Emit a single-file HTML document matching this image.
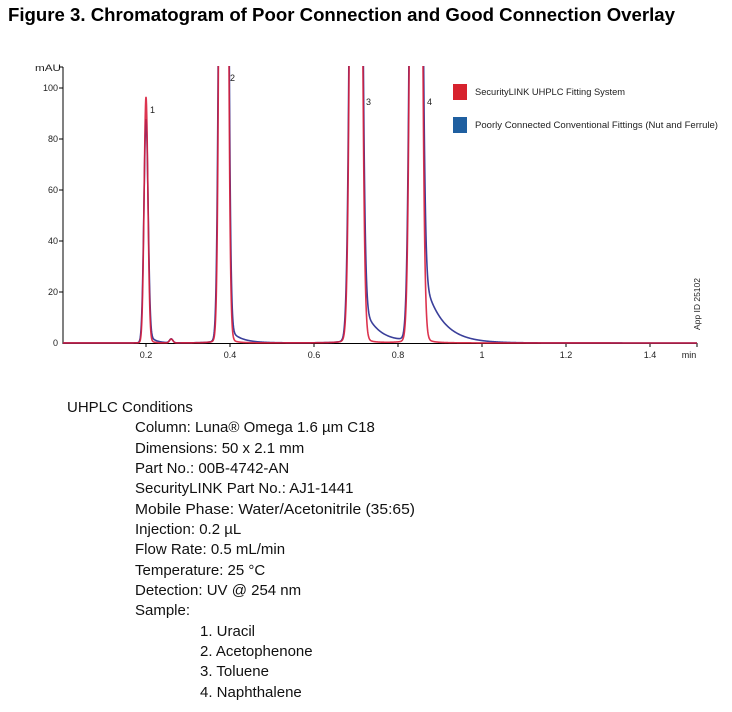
<!DOCTYPE html>
<html><head><meta charset="utf-8"><style>
html,body{margin:0;padding:0;background:#fff;}
svg{display:block;}
</style></head><body>
<svg id="s" width="732" height="712" xmlns="http://www.w3.org/2000/svg">
<text x="8" y="21" font-family="Liberation Sans, Arial, sans-serif" font-weight="bold" font-size="18" textLength="667" lengthAdjust="spacingAndGlyphs" fill="#000">Figure 3. Chromatogram of Poor Connection and Good Connection Overlay</text>
<g font-family="Liberation Sans, Arial, sans-serif" font-size="9" fill="#222">
<text x="35" y="71" textLength="26" lengthAdjust="spacingAndGlyphs">mAU</text>
<text x="58" y="91" text-anchor="end">100</text>
<text x="58" y="142" text-anchor="end">80</text>
<text x="58" y="193" text-anchor="end">60</text>
<text x="58" y="244" text-anchor="end">40</text>
<text x="58" y="295" text-anchor="end">20</text>
<text x="58" y="346" text-anchor="end">0</text>
<text x="146" y="358" text-anchor="middle">0.2</text>
<text x="230" y="358" text-anchor="middle">0.4</text>
<text x="314" y="358" text-anchor="middle">0.6</text>
<text x="398" y="358" text-anchor="middle">0.8</text>
<text x="482" y="358" text-anchor="middle">1</text>
<text x="566" y="358" text-anchor="middle">1.2</text>
<text x="650" y="358" text-anchor="middle">1.4</text>
<text x="689" y="358" text-anchor="middle">min</text>
<text x="150" y="113">1</text>
<text x="230" y="81">2</text>
<text x="366" y="105">3</text>
<text x="427" y="105">4</text>
<text transform="translate(700,330) rotate(-90)" font-size="8" textLength="52" lengthAdjust="spacingAndGlyphs">App ID 25102</text>
<text x="475" y="95" textLength="150" lengthAdjust="spacingAndGlyphs">SecurityLINK UHPLC Fitting System</text>
<text x="475" y="128" textLength="243" lengthAdjust="spacingAndGlyphs">Poorly Connected Conventional Fittings (Nut and Ferrule)</text>
</g>
<rect x="453" y="84" width="14" height="16" fill="#d7222e"/>
<rect x="453" y="117" width="14" height="16" fill="#1f5fa0"/>
<g stroke="#000" stroke-width="1">
<line x1="63" y1="67" x2="63" y2="344"/>
<line x1="63" y1="343.5" x2="697" y2="343.5"/>
<line x1="59" y1="88" x2="63" y2="88"/><line x1="59" y1="139" x2="63" y2="139"/><line x1="59" y1="190" x2="63" y2="190"/><line x1="59" y1="241" x2="63" y2="241"/><line x1="59" y1="292" x2="63" y2="292"/><line x1="59" y1="67" x2="63" y2="67"/>
<line x1="146" y1="343" x2="146" y2="347"/><line x1="230" y1="343" x2="230" y2="347"/><line x1="314" y1="343" x2="314" y2="347"/><line x1="398" y1="343" x2="398" y2="347"/><line x1="482" y1="343" x2="482" y2="347"/><line x1="566" y1="343" x2="566" y2="347"/><line x1="650" y1="343" x2="650" y2="347"/><line x1="697" y1="343" x2="697" y2="347"/>
</g>
<defs><clipPath id="c"><rect x="63" y="66" width="640" height="280"/></clipPath></defs>
<g clip-path="url(#c)" fill="none" stroke-width="1.6">
<path id="pb" stroke="#3a3f9a"/>
<path id="pr" stroke="#d81e3c" stroke-opacity="0.9"/>
</g>
<g font-family="Liberation Sans, 'DejaVu Sans', sans-serif" font-size="15" fill="#111">
<text x="67" y="412">UHPLC Conditions</text>
<text x="135" y="432">Column: Luna® Omega 1.6 µm C18</text>
<text x="135" y="453">Dimensions: 50 x 2.1 mm</text>
<text x="135" y="473">Part No.: 00B-4742-AN</text>
<text x="135" y="493">SecurityLINK Part No.: AJ1-1441</text>
<text x="135" y="514" textLength="280" lengthAdjust="spacingAndGlyphs">Mobile Phase: Water/Acetonitrile (35:65)</text>
<text x="135" y="534">Injection: 0.2 µL</text>
<text x="135" y="554">Flow Rate: 0.5 mL/min</text>
<text x="135" y="575">Temperature: 25 °C</text>
<text x="135" y="595">Detection: UV @ 254 nm</text>
<text x="135" y="615">Sample:</text>
<text x="200" y="636">1. Uracil</text>
<text x="200" y="656">2. Acetophenone</text>
<text x="200" y="676">3. Toluene</text>
<text x="200" y="697">4. Naphthalene</text>
</g>
</svg>
<script>
function f(t,peaks){var y=0;for(var i=0;i<peaks.length;i++){var p=peaks[i],d=t-p[0];
y+=p[1]*Math.exp(-d*d/(2*p[2]*p[2]));
var w=p[2]*1.2; y+=p[1]*0.01/(1+(d/w)*(d/w));
if(p[3]){var s=1/(1+Math.exp(-(d-p[2])/p[2]*1.5));y+=p[3]*Math.exp(-Math.max(d,0)/p[4])*s;}}return y;}
var red=[[0.2,95,0.0045,3,0.008],[0.26,1.5,0.004,0,1],[0.385,700,0.0065,3,0.01],[0.70,700,0.0085,4,0.012],[0.843,700,0.0085,5,0.012]];
var blue=[[0.2,86,0.005,5,0.014],[0.26,1.5,0.004,0,1],[0.385,650,0.007,7,0.028],[0.70,650,0.009,22,0.035],[0.843,650,0.009,38,0.042]];
function path(pk){var d="";for(var x=63;x<=697;x+=0.25){var t=(x-62)/420;var y=343-2.55*f(t,pk);if(y<40)y=40;d+=(d?"L":"M")+x.toFixed(2)+" "+y.toFixed(2);}return d;}
document.getElementById("pr").setAttribute("d",path(red));
document.getElementById("pb").setAttribute("d",path(blue));
</script>
</body></html>
